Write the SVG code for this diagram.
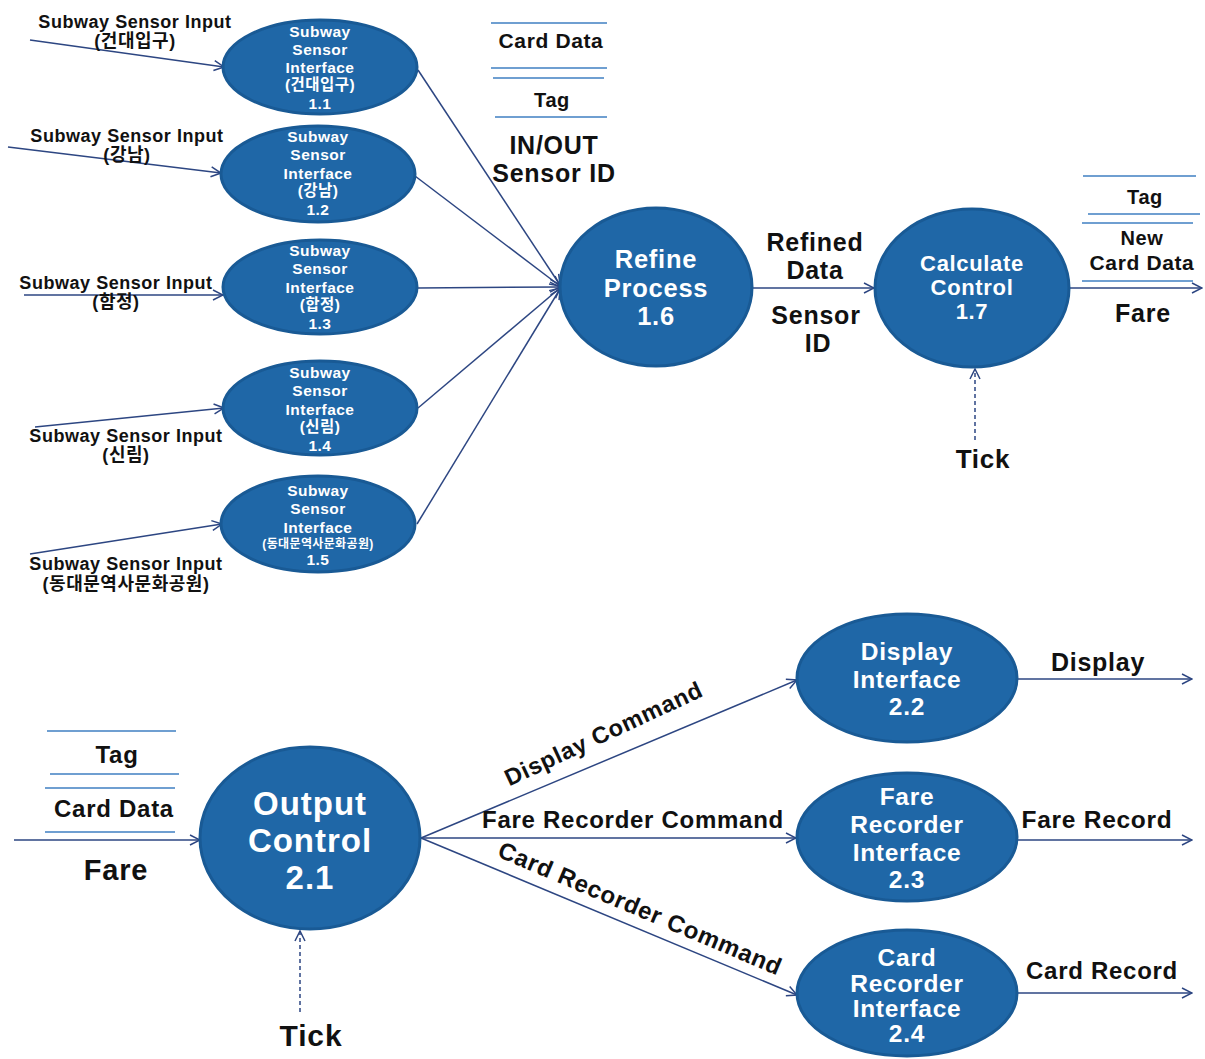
<svg xmlns="http://www.w3.org/2000/svg" width="1205" height="1059" viewBox="0 0 1205 1059">
<style>
text{font-family:"Liberation Sans","Noto Sans CJK KR",sans-serif;font-weight:bold;text-anchor:middle;letter-spacing:0.03em}
.node{fill:#1f67a7;stroke:#195a95;stroke-width:3}
.nt{fill:#ffffff}
.s{font-size:15.5px}
.lbl{fill:#111111}
.in{font-size:18px}
.flow{stroke:#2d4682;stroke-width:1.5;fill:none}
.dash{stroke:#2d4682;stroke-width:1.5;fill:none;stroke-dasharray:4 3}
.store{stroke:#3f7fc2;stroke-width:1.5}
</style>
<defs>
<marker id="ah" viewBox="0 0 12 12" refX="11" refY="6" markerWidth="12" markerHeight="12" markerUnits="userSpaceOnUse" orient="auto">
<path d="M1,1 L11,6 L1,11" fill="none" stroke="#2d4682" stroke-width="1.5"/>
</marker>
</defs>
<rect width="1205" height="1059" fill="#ffffff"/>

<g id="connectors">
<line class="flow" x1="30" y1="40" x2="224" y2="67" marker-end="url(#ah)"/>
<line class="flow" x1="8" y1="147" x2="221" y2="173" marker-end="url(#ah)"/>
<line class="flow" x1="24" y1="295" x2="223" y2="295" marker-end="url(#ah)"/>
<line class="flow" x1="35" y1="427" x2="224" y2="408" marker-end="url(#ah)"/>
<line class="flow" x1="30" y1="554" x2="222" y2="524" marker-end="url(#ah)"/>
<line class="flow" x1="418" y1="70" x2="560" y2="285" marker-end="url(#ah)"/>
<line class="flow" x1="415" y1="176" x2="560" y2="286" marker-end="url(#ah)"/>
<line class="flow" x1="418" y1="288" x2="560" y2="287" marker-end="url(#ah)"/>
<line class="flow" x1="418" y1="408" x2="560" y2="288" marker-end="url(#ah)"/>
<line class="flow" x1="417" y1="524" x2="560" y2="289" marker-end="url(#ah)"/>
<line class="flow" x1="753" y1="288" x2="874" y2="288" marker-end="url(#ah)"/>
<line class="flow" x1="1070" y1="288" x2="1202" y2="288" marker-end="url(#ah)"/>
<line class="dash" x1="975" y1="440" x2="975" y2="369" marker-end="url(#ah)"/>
<line class="flow" x1="14" y1="840" x2="200" y2="840" marker-end="url(#ah)"/>
<line class="dash" x1="300" y1="1012" x2="300" y2="931" marker-end="url(#ah)"/>
<line class="flow" x1="421" y1="838" x2="797" y2="680" marker-end="url(#ah)"/>
<line class="flow" x1="421" y1="838" x2="796" y2="838" marker-end="url(#ah)"/>
<line class="flow" x1="421" y1="838" x2="797" y2="995" marker-end="url(#ah)"/>
<line class="flow" x1="1018" y1="679" x2="1192" y2="679" marker-end="url(#ah)"/>
<line class="flow" x1="1018" y1="840" x2="1192" y2="840" marker-end="url(#ah)"/>
<line class="flow" x1="1018" y1="993" x2="1192" y2="993" marker-end="url(#ah)"/>
</g>

<g id="stores">
<line class="store" x1="491" y1="23" x2="607" y2="23"/>
<line class="store" x1="491" y1="68" x2="607" y2="68"/>
<line class="store" x1="493" y1="78" x2="604" y2="78"/>
<line class="store" x1="495" y1="117" x2="607" y2="117"/>
<line class="store" x1="1083" y1="176" x2="1196" y2="176"/>
<line class="store" x1="1088" y1="214" x2="1200" y2="214"/>
<line class="store" x1="1082" y1="223" x2="1193" y2="223"/>
<line class="store" x1="1082" y1="281" x2="1193" y2="281"/>
<line class="store" x1="47" y1="731" x2="176" y2="731"/>
<line class="store" x1="50" y1="774" x2="179" y2="774"/>
<line class="store" x1="45" y1="788" x2="175" y2="788"/>
<line class="store" x1="45" y1="832" x2="175" y2="832"/>
</g>

<g id="labels" class="lbl">
<text class="in" x="135" y="28">Subway Sensor Input</text>
<text class="in" x="135" y="47">(건대입구)</text>
<text class="in" x="127" y="142">Subway Sensor Input</text>
<text class="in" x="127" y="161">(강남)</text>
<text class="in" x="116" y="289">Subway Sensor Input</text>
<text class="in" x="116" y="308">(함정)</text>
<text class="in" x="126" y="442">Subway Sensor Input</text>
<text class="in" x="126" y="461">(신림)</text>
<text class="in" x="126" y="570">Subway Sensor Input</text>
<text class="in" x="126" y="590">(동대문역사문화공원)</text>
<text x="551" y="48" font-size="21">Card Data</text>
<text x="552" y="107" font-size="20">Tag</text>
<text x="554" y="154" font-size="25">IN/OUT</text>
<text x="554" y="182" font-size="25">Sensor ID</text>
<text x="815" y="251" font-size="25">Refined</text>
<text x="815" y="279" font-size="25">Data</text>
<text x="816" y="324" font-size="25">Sensor</text>
<text x="818" y="352" font-size="25">ID</text>
<text x="1145" y="204" font-size="20">Tag</text>
<text x="1142" y="245" font-size="20">New</text>
<text x="1142" y="270" font-size="21">Card Data</text>
<text x="1143" y="322" font-size="25">Fare</text>
<text x="983" y="468" font-size="26">Tick</text>
<text x="117" y="763" font-size="24">Tag</text>
<text x="114" y="817" font-size="24">Card Data</text>
<text x="116" y="880" font-size="29">Fare</text>
<text x="311" y="1046" font-size="30">Tick</text>
<text x="607" y="741" font-size="23.5" transform="rotate(-25 607 741)">Display Command</text>
<text x="633" y="828" font-size="24">Fare Recorder Command</text>
<text x="637" y="916" font-size="24" transform="rotate(23 637 916)">Card Recorder Command</text>
<text x="1098" y="671" font-size="25">Display</text>
<text x="1097" y="828" font-size="24.5">Fare Record</text>
<text x="1102" y="979" font-size="24">Card Record</text>
</g>

<g id="n1_1">
<ellipse class="node" cx="320" cy="67" rx="97" ry="47"/>
<text class="nt s" x="320" y="37">Subway</text>
<text class="nt s" x="320" y="55">Sensor</text>
<text class="nt s" x="320" y="73">Interface</text>
<text class="nt s" x="320" y="90">(건대입구)</text>
<text class="nt s" x="320" y="109">1.1</text>
</g>
<g id="n1_2">
<ellipse class="node" cx="318" cy="174" rx="97" ry="48"/>
<text class="nt s" x="318" y="142">Subway</text>
<text class="nt s" x="318" y="160">Sensor</text>
<text class="nt s" x="318" y="179">Interface</text>
<text class="nt s" x="318" y="196">(강남)</text>
<text class="nt s" x="318" y="215">1.2</text>
</g>
<g id="n1_3">
<ellipse class="node" cx="320" cy="287" rx="97" ry="47"/>
<text class="nt s" x="320" y="256">Subway</text>
<text class="nt s" x="320" y="274">Sensor</text>
<text class="nt s" x="320" y="293">Interface</text>
<text class="nt s" x="320" y="310">(합정)</text>
<text class="nt s" x="320" y="329">1.3</text>
</g>
<g id="n1_4">
<ellipse class="node" cx="320" cy="408" rx="97" ry="47"/>
<text class="nt s" x="320" y="378">Subway</text>
<text class="nt s" x="320" y="396">Sensor</text>
<text class="nt s" x="320" y="415">Interface</text>
<text class="nt s" x="320" y="432">(신림)</text>
<text class="nt s" x="320" y="451">1.4</text>
</g>
<g id="n1_5">
<ellipse class="node" cx="318" cy="524" rx="97" ry="48"/>
<text class="nt s" x="318" y="496">Subway</text>
<text class="nt s" x="318" y="514">Sensor</text>
<text class="nt s" x="318" y="533">Interface</text>
<text class="nt" x="318" y="548" font-size="12">(동대문역사문화공원)</text>
<text class="nt s" x="318" y="565">1.5</text>
</g>
<g id="n1_6">
<ellipse class="node" cx="656" cy="287" rx="96" ry="79"/>
<text class="nt" x="656" y="268" font-size="25.5">Refine</text>
<text class="nt" x="656" y="297" font-size="25.5">Process</text>
<text class="nt" x="656" y="325" font-size="25.5">1.6</text>
</g>
<g id="n1_7">
<ellipse class="node" cx="972" cy="288" rx="97" ry="79"/>
<text class="nt" x="972" y="271" font-size="22">Calculate</text>
<text class="nt" x="972" y="295" font-size="22">Control</text>
<text class="nt" x="972" y="319" font-size="22">1.7</text>
</g>
<g id="n2_1">
<ellipse class="node" cx="310" cy="838" rx="110" ry="91"/>
<text class="nt" x="310" y="815" font-size="33">Output</text>
<text class="nt" x="310" y="852" font-size="33">Control</text>
<text class="nt" x="310" y="889" font-size="33">2.1</text>
</g>
<g id="n2_2">
<ellipse class="node" cx="907" cy="678" rx="110" ry="64"/>
<text class="nt" x="907" y="660" font-size="24.5">Display</text>
<text class="nt" x="907" y="688" font-size="24.5">Interface</text>
<text class="nt" x="907" y="715" font-size="24.5">2.2</text>
</g>
<g id="n2_3">
<ellipse class="node" cx="907" cy="837" rx="110" ry="64"/>
<text class="nt" x="907" y="805" font-size="24.5">Fare</text>
<text class="nt" x="907" y="833" font-size="24.5">Recorder</text>
<text class="nt" x="907" y="861" font-size="24.5">Interface</text>
<text class="nt" x="907" y="888" font-size="24.5">2.3</text>
</g>
<g id="n2_4">
<ellipse class="node" cx="907" cy="993" rx="110" ry="63"/>
<text class="nt" x="907" y="966" font-size="24.5">Card</text>
<text class="nt" x="907" y="992" font-size="24.5">Recorder</text>
<text class="nt" x="907" y="1017" font-size="24.5">Interface</text>
<text class="nt" x="907" y="1042" font-size="24.5">2.4</text>
</g>
</svg>
